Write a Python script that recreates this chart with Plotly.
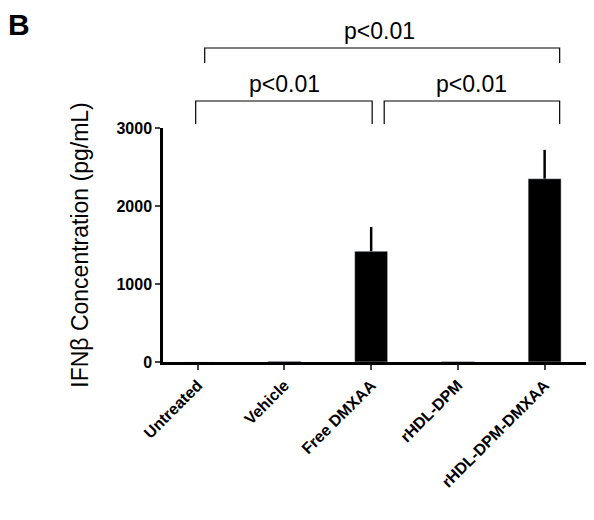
import plotly.graph_objects as go

groups = ["Untreated", "Vehicle", "Free DMXAA", "rHDL-DPM", "rHDL-DPM-DMXAA"]
values = [0, 10, 1420, 5, 2350]
errors = [0, 0, 310, 0, 370]
y_ticks = [0, 1000, 2000, 3000]

fig = go.Figure(go.Bar(
    x=list(range(len(groups))), y=values,
    marker=dict(color="black"), width=0.38,
    error_y=dict(type="data", array=errors, symmetric=False, color="black", thickness=2.5, width=0),
))

def py(p):
    return (354 - p) / 234.0

def px_(p):
    return (p - 190) / 86.5

shapes = []
def bracket(x0, x1, ytop, yend):
    shapes.append(dict(type="path", xref="x", yref="paper",
                       path=f"M {px_(x0)},{py(yend)} L {px_(x0)},{py(ytop)} L {px_(x1)},{py(ytop)} L {px_(x1)},{py(yend)}",
                       line=dict(color="black", width=1.2)))

bracket(197, 551, 40, 55)
bracket(188, 364, 93, 116)
bracket(376, 551, 93, 116)

ann = []
for xp, yp in [(371, 38), (277, 91), (463, 91)]:
    ann.append(dict(x=px_(xp), y=py(yp), xref="x", yref="paper", text="p<0.01", yanchor="bottom",
                    showarrow=False, font=dict(size=23, color="black")))
ann.append(dict(x=0, y=1, xref="paper", yref="paper", xanchor="left", yanchor="top", xshift=-157, yshift=122,
                text="<b>B</b>", showarrow=False, font=dict(size=30, color="black")))

fig.update_layout(
    width=594, height=520, margin=dict(l=155, r=14, t=120, b=166),
    plot_bgcolor="white", paper_bgcolor="white", showlegend=False,
    font=dict(family="Liberation Sans, Arial", color="black"),
    shapes=shapes, annotations=ann,
    xaxis=dict(tickmode="array", tickvals=list(range(len(groups))), automargin=False,
               ticktext=[f"<b>{g}</b>" for g in groups], tickangle=-45,
               range=[-0.4, 4.5], showline=True, linecolor="black", linewidth=2.5,
               ticks="outside", ticklen=5, tickwidth=2, tickfont=dict(size=16)),
    yaxis=dict(range=[0, 3000], tickvals=y_ticks, ticktext=[f"<b>{t}</b>" for t in y_ticks],
               automargin=False,
               showline=True, linecolor="black", linewidth=2.5, showgrid=False, zeroline=False,
               ticks="outside", ticklen=5, tickwidth=2, tickfont=dict(size=16),
               title=dict(text="IFNβ Concentration (pg/mL)", font=dict(size=23), standoff=22)),
)
fig.write_html("out.html")
